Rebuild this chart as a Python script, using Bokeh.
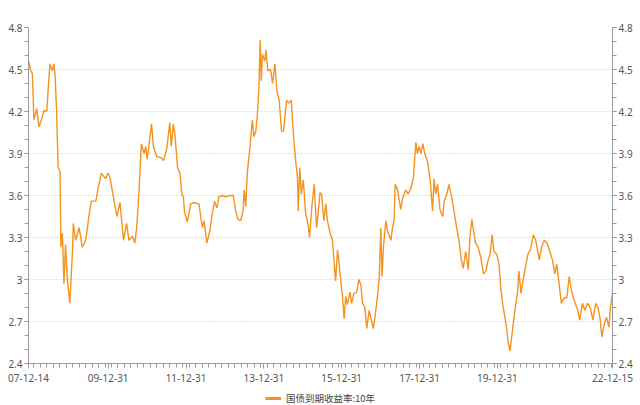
import datetime as dt
from bokeh.plotting import figure
from bokeh.layouts import column
from bokeh.models import (ColumnDataSource, LinearAxis, FixedTicker, Label,
                          Legend, LegendItem, Range1d)
from bokeh.embed import file_html
from bokeh.resources import INLINE

SERIES_NAME = "国债到期收益率:10年"
UNIT = "%"

# dates as decimal years
dates_dec = [
    2007.953, 2008.00, 2008.05, 2008.09, 2008.16, 2008.22, 2008.28, 2008.35, 2008.42, 2008.47,
    2008.50, 2008.56, 2008.60, 2008.63, 2008.67, 2008.71, 2008.76, 2008.78, 2008.82, 2008.86,
    2008.90, 2008.95, 2009.01, 2009.08, 2009.10, 2009.16, 2009.25, 2009.33, 2009.42, 2009.50,
    2009.56, 2009.68, 2009.73, 2009.82, 2009.93, 2009.99, 2010.04, 2010.13, 2010.22, 2010.30,
    2010.39, 2010.47, 2010.53, 2010.62, 2010.68, 2010.73, 2010.79, 2010.85, 2010.92, 2010.96,
    2011.00, 2011.11, 2011.16, 2011.24, 2011.35, 2011.42, 2011.50, 2011.58, 2011.62, 2011.67,
    2011.71, 2011.78, 2011.84, 2011.89, 2011.93, 2011.96, 2012.03, 2012.12, 2012.20, 2012.33,
    2012.39, 2012.42, 2012.46, 2012.53, 2012.61, 2012.67, 2012.73, 2012.79, 2012.84, 2012.93,
    2013.02, 2013.10, 2013.21, 2013.27, 2013.33, 2013.40, 2013.46, 2013.49, 2013.53, 2013.57,
    2013.64, 2013.70, 2013.74, 2013.79, 2013.83, 2013.87, 2013.90, 2013.93, 2013.96, 2014.02,
    2014.05, 2014.10, 2014.17, 2014.22, 2014.28, 2014.33, 2014.39, 2014.45, 2014.50, 2014.53,
    2014.58, 2014.64, 2014.70, 2014.76, 2014.82, 2014.86, 2014.88, 2014.92, 2014.96, 2015.01,
    2015.07, 2015.13, 2015.17, 2015.23, 2015.29, 2015.35, 2015.39, 2015.44, 2015.48, 2015.54,
    2015.59, 2015.63, 2015.70, 2015.76, 2015.82, 2015.84, 2015.89, 2015.93, 2015.95, 2016.02,
    2016.06, 2016.10, 2016.14, 2016.21, 2016.25, 2016.31, 2016.38, 2016.44, 2016.49, 2016.53,
    2016.59, 2016.64, 2016.70, 2016.74, 2016.81, 2016.85, 2016.91, 2016.96, 2017.00, 2017.03,
    2017.07, 2017.13, 2017.17, 2017.26, 2017.30, 2017.34, 2017.37, 2017.43, 2017.50, 2017.51,
    2017.56, 2017.64, 2017.70, 2017.77, 2017.84, 2017.90, 2017.94, 2017.98, 2018.03, 2018.08,
    2018.13, 2018.20, 2018.27, 2018.33, 2018.37, 2018.41, 2018.46, 2018.52, 2018.59, 2018.63,
    2018.70, 2018.75, 2018.82, 2018.88, 2018.95, 2019.01, 2019.07, 2019.12, 2019.18, 2019.25,
    2019.29, 2019.34, 2019.38, 2019.44, 2019.50, 2019.57, 2019.64, 2019.70, 2019.76, 2019.81,
    2019.86, 2019.91, 2019.98, 2020.04, 2020.08, 2020.13, 2020.19, 2020.24, 2020.27, 2020.32,
    2020.36, 2020.41, 2020.47, 2020.51, 2020.55, 2020.60, 2020.67, 2020.73, 2020.78, 2020.85,
    2020.92, 2020.98, 2021.07, 2021.13, 2021.20, 2021.27, 2021.32, 2021.41, 2021.47, 2021.52,
    2021.58, 2021.64, 2021.71, 2021.78, 2021.84, 2021.90, 2021.97, 2022.06, 2022.11, 2022.18,
    2022.24, 2022.31, 2022.38, 2022.45, 2022.52, 2022.58, 2022.63, 2022.68, 2022.74, 2022.80,
    2022.86, 2022.90, 2022.95,
]
yields = [
    4.56, 4.50, 4.47, 4.14, 4.22, 4.09, 4.14, 4.21, 4.20, 4.42,
    4.54, 4.49, 4.54, 4.47, 4.21, 3.80, 3.77, 3.23, 3.33, 2.97,
    3.25, 2.99, 2.83, 3.21, 3.40, 3.28, 3.37, 3.23, 3.28, 3.45,
    3.56, 3.56, 3.64, 3.76, 3.72, 3.76, 3.73, 3.59, 3.45, 3.55,
    3.28, 3.40, 3.28, 3.31, 3.26, 3.37, 3.64, 3.97, 3.90, 3.95,
    3.86, 4.11, 3.95, 3.88, 3.87, 3.85, 3.93, 4.12, 3.95, 4.11,
    4.04, 3.80, 3.76, 3.61, 3.59, 3.48, 3.41, 3.54, 3.55, 3.54,
    3.42, 3.37, 3.42, 3.26, 3.35, 3.47, 3.56, 3.51, 3.59, 3.60,
    3.59, 3.60, 3.60, 3.49, 3.43, 3.42, 3.49, 3.64, 3.52, 3.76,
    3.95, 4.14, 4.02, 4.06, 4.18, 4.37, 4.71, 4.42, 4.61, 4.56,
    4.64, 4.49, 4.50, 4.40, 4.54, 4.35, 4.28, 4.06, 4.06, 4.14,
    4.28, 4.26, 4.28, 4.02, 3.83, 3.73, 3.49, 3.80, 3.61, 3.71,
    3.47, 3.40, 3.30, 3.52, 3.68, 3.37, 3.47, 3.62, 3.61, 3.42,
    3.54, 3.42, 3.33, 3.28, 3.06, 2.99, 3.21, 3.12, 3.05, 2.87,
    2.72, 2.88, 2.82, 2.91, 2.83, 2.90, 2.91, 3.00, 2.96, 2.83,
    2.80, 2.65, 2.78, 2.73, 2.65, 2.73, 2.87, 3.01, 3.37, 3.02,
    3.24, 3.42, 3.35, 3.28, 3.37, 3.42, 3.68, 3.64, 3.52, 3.50,
    3.58, 3.64, 3.61, 3.65, 3.73, 3.98, 3.90, 3.95, 3.90, 3.97,
    3.90, 3.84, 3.71, 3.49, 3.72, 3.61, 3.68, 3.50, 3.45, 3.56,
    3.61, 3.68, 3.59, 3.49, 3.37, 3.28, 3.14, 3.08, 3.20, 3.07,
    3.30, 3.43, 3.35, 3.26, 3.23, 3.16, 3.04, 3.06, 3.14, 3.18,
    3.32, 3.20, 3.18, 3.11, 2.95, 2.83, 2.73, 2.64, 2.56, 2.49,
    2.58, 2.70, 2.83, 2.90, 3.06, 2.90, 3.02, 3.11, 3.18, 3.22,
    3.32, 3.28, 3.14, 3.23, 3.28, 3.26, 3.22, 3.14, 3.04, 3.11,
    2.97, 2.83, 2.87, 2.87, 3.02, 2.92, 2.85, 2.78, 2.71, 2.83,
    2.78, 2.83, 2.80, 2.71, 2.83, 2.80, 2.73, 2.59, 2.68, 2.73,
    2.66, 2.80, 2.90,
]

x_tick_dates = ["2007-12-14", "2009-12-31", "2011-12-31", "2013-12-31",
                "2015-12-31", "2017-12-31", "2019-12-31", "2022-12-15"]
x_tick_labels = ["07-12-14", "09-12-31", "11-12-31", "13-12-31",
                 "15-12-31", "17-12-31", "19-12-31", "22-12-15"]
y_ticks = [2.4, 2.7, 3.0, 3.3, 3.6, 3.9, 4.2, 4.5, 4.8]
y_tick_labels = ["2.4", "2.7", "3", "3.3", "3.6", "3.9", "4.2", "4.5", "4.8"]

EPOCH = dt.datetime(1970, 1, 1)


def to_ms(d):
    return (d - EPOCH).total_seconds() * 1000.0


def dec_to_ms(y):
    yr = int(y)
    a = dt.datetime(yr, 1, 1)
    b = dt.datetime(yr + 1, 1, 1)
    return to_ms(a + (b - a) * (y - yr))


xs = [dec_to_ms(d) for d in dates_dec]
tick_ms = [to_ms(dt.datetime.strptime(s, "%Y-%m-%d")) for s in x_tick_dates]
x_start, x_end = tick_ms[0], tick_ms[-1]

# minor ticks every two months
minor_ms = []
y0, m0 = 2008, 2
while True:
    d = dt.datetime(y0, m0, 1)
    if d > dt.datetime(2022, 12, 15):
        break
    minor_ms.append(to_ms(d))
    m0 += 2
    if m0 > 12:
        m0 -= 12
        y0 += 1

LINE_COLOR = "#F4931F"
TEXT_COLOR = "#555555"
AXIS_COLOR = "#9a9a9a"
NUM_FONT = "Noto Sans"

# ---------------- main chart ----------------
p = figure(width=640, height=391, output_backend="svg", toolbar_location=None,
           x_axis_type="datetime",
           x_range=Range1d(x_start, x_end), y_range=Range1d(2.4, 4.8),
           min_border_left=28, min_border_right=28, min_border_top=27,
           min_border_bottom=28)
p.outline_line_color = None
p.background_fill_color = "white"
p.border_fill_color = "white"

src = ColumnDataSource(data=dict(x=xs, y=yields))
p.line("x", "y", source=src, line_color=LINE_COLOR, line_width=1.4)

# x axis
xa = p.xaxis[0]
xa.ticker = FixedTicker(ticks=tick_ms, minor_ticks=minor_ms)
xa.major_label_overrides = {t: l for t, l in zip(tick_ms, x_tick_labels)}
xa.axis_line_color = AXIS_COLOR
xa.major_tick_line_color = AXIS_COLOR
xa.minor_tick_line_color = AXIS_COLOR
xa.major_tick_out = 5
xa.major_tick_in = 0
xa.minor_tick_out = 4
xa.minor_tick_in = 0
xa.major_label_standoff = 5
xa.major_label_text_font = NUM_FONT
xa.major_label_text_font_size = "10px"
xa.major_label_text_color = TEXT_COLOR

# y axes (left and right share the same scale)
ya = p.yaxis[0]
ry = LinearAxis()
p.add_layout(ry, "right")
minor_y = [round(2.4 + 0.1 * i, 1) for i in range(25)]
for ax in (ya, ry):
    ax.ticker = FixedTicker(ticks=y_ticks, minor_ticks=minor_y)
    ax.major_label_overrides = {t: l for t, l in zip(y_ticks, y_tick_labels)}
    ax.axis_line_color = AXIS_COLOR
    ax.major_tick_line_color = AXIS_COLOR
    ax.minor_tick_line_color = AXIS_COLOR
    ax.major_tick_out = 4
    ax.major_tick_in = 0
    ax.minor_tick_out = 4
    ax.minor_tick_in = 0
    ax.major_label_standoff = 2
    ax.major_label_text_font = NUM_FONT
    ax.major_label_text_font_size = "10px"
    ax.major_label_text_color = TEXT_COLOR

p.xgrid.visible = False
p.ygrid.ticker = FixedTicker(ticks=y_ticks)
p.ygrid.grid_line_color = "#d9d9d9"
p.ygrid.grid_line_dash = "2 2"

for xv in (x_start, x_end):
    p.add_layout(Label(x=xv, y=4.8, y_offset=17, text=UNIT, text_align="center",
                       text_baseline="middle", text_font=NUM_FONT,
                       text_font_size="10px", text_color=TEXT_COLOR))

# ---------------- legend strip ----------------
lg = figure(width=640, height=14, output_backend="svg", toolbar_location=None,
            x_range=Range1d(0, 1), y_range=Range1d(0, 1),
            x_axis_location=None, y_axis_location=None,
            min_border_left=0, min_border_right=0, min_border_top=0,
            min_border_bottom=0)
lg.outline_line_color = None
lg.xgrid.visible = False
lg.ygrid.visible = False
lg.background_fill_color = "white"
lg.border_fill_color = "white"
# proxy renderer for the legend swatch, kept outside the visible range
proxy_src = ColumnDataSource(data=dict(x=[0.0, 0.0], y=[5.0, 5.0]))
proxy = lg.line("x", "y", source=proxy_src, line_color=LINE_COLOR, line_width=3)
legend = Legend(items=[LegendItem(label=SERIES_NAME, renderers=[proxy])],
                location="center", orientation="horizontal",
                label_text_font="Noto Sans CJK SC", label_text_font_size="9.5px",
                label_text_color="#444444", glyph_width=16, glyph_height=12,
                label_height=12, label_standoff=5, padding=0, margin=0,
                border_line_color=None, background_fill_alpha=0)
lg.add_layout(legend, "center")

layout = column(p, lg, spacing=0)
open("out.html", "w").write(file_html(layout, INLINE))
